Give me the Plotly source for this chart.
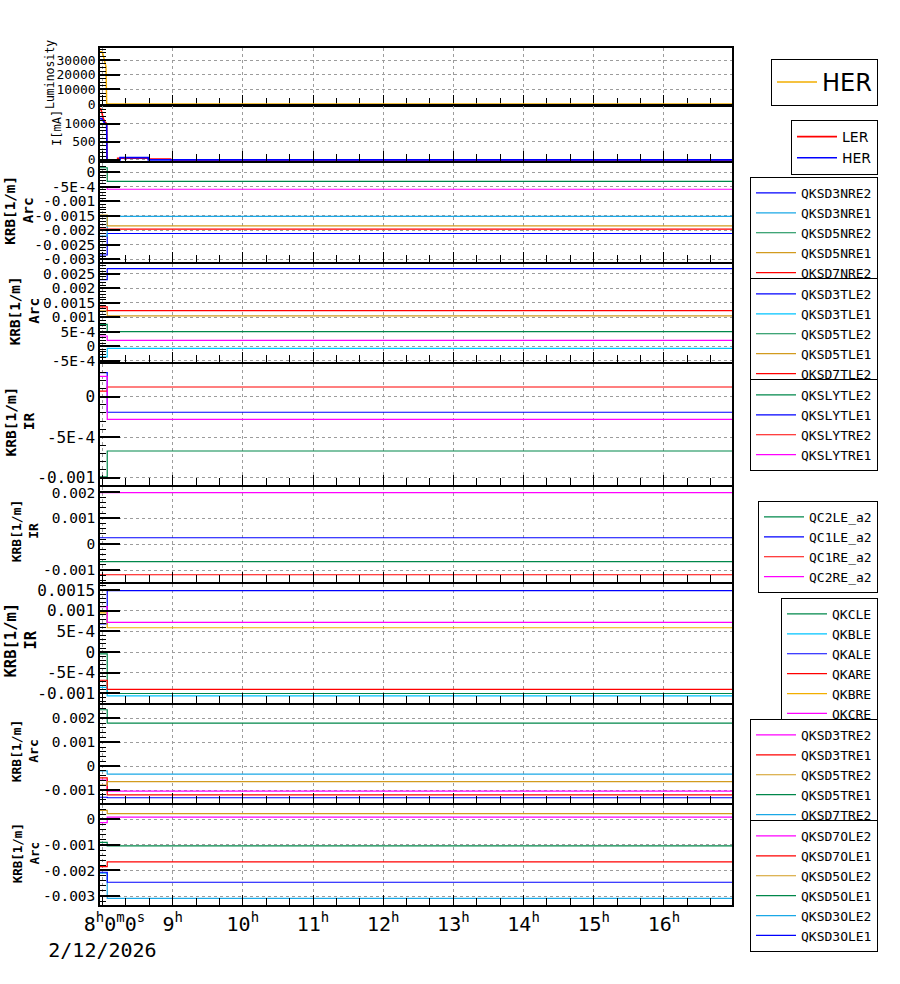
import plotly.graph_objects as go

DAY = "2026-02-12 "

# ---------------- time axis ----------------
x_start = DAY + "07:57:54"
x_end = DAY + "16:58:12"
hour_ticks = [DAY + "08:00:00", DAY + "09:00:00", DAY + "10:00:00", DAY + "11:00:00",
              DAY + "12:00:00", DAY + "13:00:00", DAY + "14:00:00", DAY + "15:00:00",
              DAY + "16:00:00"]
hour_labels = ["&nbsp;&nbsp;8<sup>h</sup>0<sup>m</sup>0<sup>s</sup><br>2/12/2026",
               "9<sup>h</sup>", "10<sup>h</sup>", "11<sup>h</sup>", "12<sup>h</sup>",
               "13<sup>h</sup>", "14<sup>h</sup>", "15<sup>h</sup>", "16<sup>h</sup>"]

# ---------------- luminosity ----------------
lum_time = [DAY + "07:57:54", DAY + "07:59:24", DAY + "08:00:12", DAY + "08:01:18",
            DAY + "08:02:12", DAY + "08:03:00", DAY + "08:03:36", x_end]
lum_her = [35800, 35800, 34700, 31300, 26700, 25600, 0, 0]

# ---------------- beam currents ----------------
cur_ler_time = [DAY + "07:57:54", DAY + "07:58:30", DAY + "07:59:24", DAY + "08:00:42",
                DAY + "08:02:12", DAY + "08:03:36", DAY + "08:03:54", DAY + "08:13:00",
                DAY + "08:13:00", DAY + "08:39:12", DAY + "08:39:12", DAY + "08:58:18",
                DAY + "08:58:18", x_end]
cur_ler = [1412, 1412, 1320, 1139, 1046, 1003, 0, 0, 46, 46, 25, 25, 0, 0]
cur_her_time = [DAY + "07:57:54", DAY + "07:59:24", DAY + "08:00:42", DAY + "08:02:12",
                DAY + "08:03:36", DAY + "08:03:54", DAY + "08:15:00", DAY + "08:15:00",
                DAY + "08:39:12", DAY + "08:39:12", x_end]
cur_her = [1139, 1139, 1074, 1003, 984, 0, 0, 63, 63, 0, 0]

# ---------------- KRB settings (value before / after the change) ----------------
krb_time = [DAY + "07:57:54", DAY + "08:04:05", x_end]

nre_names = ["QKSD3NRE2", "QKSD3NRE1", "QKSD5NRE2", "QKSD5NRE1", "QKSD7NRE2", "QKSD7NRE1"]
nre_before = [-0.00285, -0.00220, 0.00015, -0.00148, -0.00196, -0.00051]
nre_after = [-0.00211, -0.00152, -0.00032, -0.00185, -0.00196, -0.00059]

tle_names = ["QKSD3TLE2", "QKSD3TLE1", "QKSD5TLE2", "QKSD5TLE1", "QKSD7TLE2", "QKSD7TLE1"]
tle_before = [0.00230, -0.00037, 0.00075, 0.00122, 0.00136, 0.00035]
tle_after = [0.00268, -0.00008, 0.00050, 0.00105, 0.00123, 0.00020]

sly_names = ["QKSLYTLE2", "QKSLYTLE1", "QKSLYTRE2", "QKSLYTRE1"]
sly_before = [-0.00099, 0.000298, 0.00007, 0.00025]
sly_after = [-0.00067, -0.000192, 0.00012, -0.00028]

qc_names = ["QC2LE_a2", "QC1LE_a2", "QC1RE_a2", "QC2RE_a2"]
qc_values = [-0.00067, 0.00025, -0.00118, 0.00199]

qk_names = ["QKCLE", "QKBLE", "QKALE", "QKARE", "QKBRE", "QKCRE"]
qk_before = [-0.00004, -0.00085, 0.00068, -0.00068, 0.00095, 0.00110]
qk_after = [-0.00100, -0.00106, 0.00149, -0.00090, 0.00059, 0.00072]

tre_names = ["QKSD3TRE2", "QKSD3TRE1", "QKSD5TRE2", "QKSD5TRE1", "QKSD7TRE2", "QKSD7TRE1"]
tre_before = [-0.00058, -0.00049, -0.00079, 0.00236, -0.00020, -0.00130]
tre_after = [-0.00104, -0.00120, -0.00065, 0.00180, -0.00033, -0.00132]

ole_names = ["QKSD7OLE2", "QKSD7OLE1", "QKSD5OLE2", "QKSD5OLE1", "QKSD3OLE2", "QKSD3OLE1"]
ole_before = [-0.00013, -0.00185, 0.00035, -0.00090, -0.00210, -0.00207]
ole_after = [0.00009, -0.00166, 0.00022, -0.00104, -0.00309, -0.00246]

# ---------------- y tick labels ----------------
lum_tv = [0, 10000, 20000, 30000]
lum_tt = ["0", "10000", "20000", "30000"]
cur_tv = [0, 500, 1000]
cur_tt = ["0", "500", "1000"]
nre_tv = [0, -5e-4, -1e-3, -1.5e-3, -2e-3, -2.5e-3, -3e-3]
nre_tt = ["0", "-5E-4", "-0.001", "-0.0015", "-0.002", "-0.0025", "-0.003"]
tle_tv = [-5e-4, 0, 5e-4, 1e-3, 1.5e-3, 2e-3, 2.5e-3]
tle_tt = ["-5E-4", "0", "5E-4", "0.001", "0.0015", "0.002", "0.0025"]
sly_tv = [-1e-3, -5e-4, 0]
sly_tt = ["-0.001", "-5E-4", "0"]
qc_tv = [-1e-3, 0, 1e-3, 2e-3]
qc_tt = ["-0.001", "0", "0.001", "0.002"]
qk_tv = [-1e-3, -5e-4, 0, 5e-4, 1e-3, 1.5e-3]
qk_tt = ["-0.001", "-5E-4", "0", "5E-4", "0.001", "0.0015"]
tre_tv = [-1e-3, 0, 1e-3, 2e-3]
tre_tt = ["-0.001", "0", "0.001", "0.002"]
ole_tv = [-3e-3, -2e-3, -1e-3, 0]
ole_tt = ["-0.003", "-0.002", "-0.001", "0"]

# ---------------- styling ----------------
BLUE = "#0000ff"
LBLUE = "#1aa8e6"
CYAN = "#00c4ff"
GREEN = "#00874a"
GOLD = "#d29b1e"
ORANGE = "#f2ae00"
RED = "#ff0000"
MAG = "#ff00ff"
MONO = "DejaVu Sans Mono"

W, H = 900, 984
PL, PR, PT, PB = 100, 732, 48, 905


def py(px):
    return (PB - px) / (PB - PT)


def pxx(px):
    return (px - PL) / (PR - PL)


fig = go.Figure()


def add_line(x, y, name, color, idx, legend, width=1.2, shape="linear"):
    fig.add_trace(go.Scatter(
        x=x, y=y, name=name, mode="lines",
        line=dict(color=color, width=width, shape=shape),
        xaxis="x" if idx == 1 else f"x{idx}", yaxis="y" if idx == 1 else f"y{idx}",
        legend=legend, hoverinfo="x+y+name"))


# panel 1 : luminosity
add_line(lum_time, lum_her, "HER", ORANGE, 1, "legend", width=1.5)
# panel 2 : currents
add_line(cur_ler_time, cur_ler, "LER", RED, 2, "legend2", width=1.6)
add_line(cur_her_time, cur_her, "HER", BLUE, 2, "legend2", width=1.6)

groups = [
    (3, "legend3", nre_names, nre_before, nre_after, [BLUE, LBLUE, GREEN, GOLD, RED, MAG]),
    (4, "legend4", tle_names, tle_before, tle_after, [BLUE, CYAN, GREEN, GOLD, RED, MAG]),
    (5, "legend5", sly_names, sly_before, sly_after, [GREEN, BLUE, RED, MAG]),
    (6, "legend6", qc_names, qc_values, qc_values, [GREEN, BLUE, RED, MAG]),
    (7, "legend7", qk_names, qk_before, qk_after, [GREEN, CYAN, BLUE, RED, ORANGE, MAG]),
    (8, "legend8", tre_names, tre_before, tre_after, [MAG, RED, GOLD, GREEN, LBLUE, BLUE]),
    (9, "legend9", ole_names, ole_before, ole_after, [MAG, RED, GOLD, GREEN, LBLUE, BLUE]),
]
for idx, leg, names, before, after, colors in groups:
    for n, b, a, c in zip(names, before, after, colors):
        add_line(krb_time, [b, a, a], n, c, idx, leg, width=1.2, shape="hv")

# panel geometry: (pixel top, pixel bottom, range, tickvals, ticktext, minor dtick, font size)
panels = [
    (48, 104.5, [-300, 38400], lum_tv, lum_tt, 2500, 13),
    (105.5, 161, [-30, 1500], cur_tv, cur_tt, 100, 13),
    (162.5, 262, [-0.00309, 0.00033], nre_tv, nre_tt, 1e-4, 14.5),
    (263.5, 362, [-0.00055, 0.00286], tle_tv, tle_tt, 1e-4, 14.5),
    (363.5, 485, [-0.00109, 0.00041], sly_tv, sly_tt, 1e-4, 16),
    (486.5, 582, [-0.00146, 0.00223], qc_tv, qc_tt, 2e-4, 14.5),
    (583.5, 703, [-0.00123, 0.00166], qk_tv, qk_tt, 1e-4, 16),
    (704.5, 803, [-0.00154, 0.00258], tre_tv, tre_tt, 2e-4, 14.5),
    (804.5, 905, [-0.00335, 0.00058], ole_tv, ole_tt, 2e-4, 14.5),
]

GRID = dict(showgrid=True, gridcolor="#9c9c9c", gridwidth=1, griddash="3px,3px")
layout = dict(
    width=W, height=H,
    margin=dict(l=PL, r=W - PR, t=PT, b=H - PB),
    paper_bgcolor="white", plot_bgcolor="white",
    font=dict(family=MONO, color="black", size=14),
    showlegend=True,
)

for i, (top, bot, rng, tv, tt, mdt, fs) in enumerate(panels, start=1):
    xk = "xaxis" if i == 1 else f"xaxis{i}"
    yk = "yaxis" if i == 1 else f"yaxis{i}"
    last = (i == len(panels))
    xa = dict(
        type="date", anchor="y" if i == 1 else f"y{i}", domain=[0, 1],
        tickmode="array", tickvals=hour_ticks, ticktext=hour_labels,
        showticklabels=last, tickfont=dict(family=MONO, size=20),
        ticks="inside", ticklen=10, tickwidth=1, tickcolor="black",
        minor=dict(ticks="inside", ticklen=7, tickwidth=1, tickcolor="black",
                   tick0=DAY + "08:00:00", dtick=20 * 60 * 1000, showgrid=False),
        showline=True, linecolor="black", linewidth=1.5, mirror=True,
        zeroline=False, **GRID)
    if i == 1:
        xa["range"] = [x_start, x_end]
        xa["layer"] = "below traces"
    else:
        xa["matches"] = "x"
    layout[xk] = xa
    layout[yk] = dict(
        domain=[py(bot), py(top)], anchor="x" if i == 1 else f"x{i}",
        range=rng, tickmode="array", tickvals=tv, ticktext=tt,
        tickfont=dict(family=MONO, size=fs),
        ticks="inside", ticklen=20, tickwidth=1.5, tickcolor="black",
        minor=dict(ticks="inside", ticklen=6, tickwidth=1, tickcolor="black",
                   tick0=0, dtick=mdt, showgrid=False),
        showline=True, linecolor="black", linewidth=1.5, mirror=True,
        zeroline=False, **GRID)

# legends
legend_tops = [59, 120, 177, 278, 379, 501, 598, 719, 820]
for i, top in enumerate(legend_tops, start=1):
    key = "legend" if i == 1 else f"legend{i}"
    if i == 1:
        lf = dict(family="DejaVu Sans", size=24)
    elif i == 2:
        lf = dict(family="DejaVu Sans", size=14)
    else:
        lf = dict(family=MONO, size=13)
    layout[key] = dict(
        x=pxx(878), xanchor="right", y=py(top), yanchor="top",
        xref="paper", yref="paper", itemwidth=40,
        bgcolor="white", bordercolor="black", borderwidth=1,
        font=lf, tracegroupgap=0, itemclick=False, itemdoubleclick=False)

# axis titles as rotated text: (text, x centre px, y centre px, font size, bold)
titles = [
    ("Luminosity", 50, 75, 11.5, False),
    ("I[mA]", 57, 128, 12, False),
    ("KRB[1/m]<br>Arc", 18.8, 210, 14.3, True),
    ("KRB[1/m]<br>Arc", 25.3, 311, 14.3, True),
    ("KRB[1/m]<br>IR", 19.5, 421, 14.5, True),
    ("KRB[1/m]<br>IR", 25.3, 531, 13, True),
    ("KRB[1/m]<br>IR", 20.5, 640, 15.5, True),
    ("KRB[1/m]<br>Arc", 25.3, 751, 13, True),
    ("KRB[1/m]<br>Arc", 25.3, 853, 12.5, True),
]
ann = []
for text, xc, yc, fs, bold in titles:
    if bold:
        text = "<br>".join(f"<b>{t}</b>" for t in text.split("<br>"))
    ann.append(dict(text=text, xref="paper", yref="paper", x=pxx(xc), y=py(yc),
                    xanchor="center", yanchor="middle", textangle=-90, showarrow=False,
                    font=dict(family=MONO, size=fs, color="black")))
layout["annotations"] = ann

fig.update_layout(**layout)
fig.write_html("out.html", config={"displayModeBar": False},
               post_script="document.body.style.margin='0px';")
